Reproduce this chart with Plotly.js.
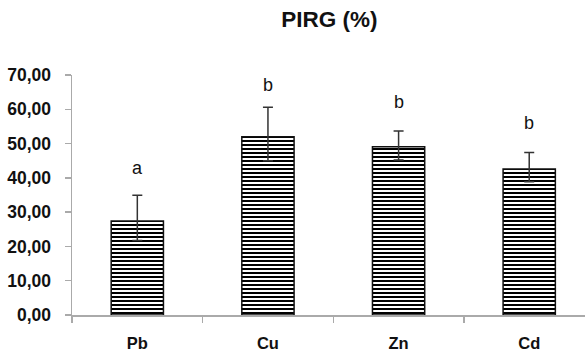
<!DOCTYPE html>
<html><head><meta charset="utf-8">
<script src="https://cdn.plot.ly/plotly-3.0.1.min.js"></script>
<style>html,body{margin:0;padding:0;background:#fff}#c{width:585px;height:354px}</style>
</head><body><div id="c"></div>
<script>
const categories = ["Pb", "Cu", "Zn", "Cd"];
const values = [27.4, 52.0, 49.1, 42.6];
const errPlus = [7.5, 8.6, 4.6, 4.8];
const errMinus = [5.7, 7.0, 3.9, 3.7];
const letters = ["a", "b", "b", "b"];
const letterY = [42.9, 67.1, 62.2, 56.0];
const yTicks = [0, 10, 20, 30, 40, 50, 60, 70];
const yTickLabels = ["0,00", "10,00", "20,00", "30,00", "40,00", "50,00", "60,00", "70,00"];

const trace = {
  type: "bar",
  x: categories,
  y: values,
  width: 0.4,
  marker: {
    color: "#ffffff",
    line: {color: "#111111", width: 1.5},
    pattern: {shape: "-", size: 4, solidity: 0.5, fgcolor: "#000000", bgcolor: "#ffffff", fillmode: "replace"}
  },
  error_y: {type: "data", symmetric: false, array: errPlus, arrayminus: errMinus, color: "#333333", thickness: 1.5, width: 5}
};

const annotations = categories.map((c, i) => ({
  x: c, y: letterY[i], xref: "x", yref: "y", text: letters[i], showarrow: false,
  font: {family: "Liberation Sans, Arial, sans-serif", size: 18, color: "#111111"}
}));

const layout = {
  width: 585, height: 354,
  margin: {l: 72, r: 0, t: 75, b: 39},
  paper_bgcolor: "#ffffff", plot_bgcolor: "#ffffff",
  showlegend: false,
  title: {text: "PIRG (%)", x: 0.563, xanchor: "center", y: 0.945, yanchor: "middle",
    font: {family: "Liberation Sans, Arial, sans-serif", size: 22.5, color: "#111111", weight: "bold"}},
  xaxis: {
    type: "category", range: [-0.5, 3.427], fixedrange: true,
    showline: true, linecolor: "#aaaaaa", linewidth: 1.5,
    ticks: "outside", tickson: "boundaries", ticklen: 6, tickcolor: "#aaaaaa", tickwidth: 1.5,
    tickfont: {family: "Liberation Sans, Arial, sans-serif", size: 16.5, color: "#111111", weight: "bold"},
    ticklabelstandoff: 13, showgrid: false, zeroline: false
  },
  yaxis: {
    range: [0, 70], fixedrange: true,
    tickvals: yTicks, ticktext: yTickLabels,
    showline: true, linecolor: "#aaaaaa", linewidth: 1.5,
    ticks: "outside", ticklen: 6, tickcolor: "#aaaaaa", tickwidth: 1.5,
    tickfont: {family: "Liberation Sans, Arial, sans-serif", size: 17.5, color: "#111111", weight: "bold"},
    ticklabelstandoff: 10, showgrid: false, zeroline: false
  },
  annotations: annotations
};

Plotly.newPlot("c", [trace], layout, {staticPlot: true, displayModeBar: false});
</script></body></html>
